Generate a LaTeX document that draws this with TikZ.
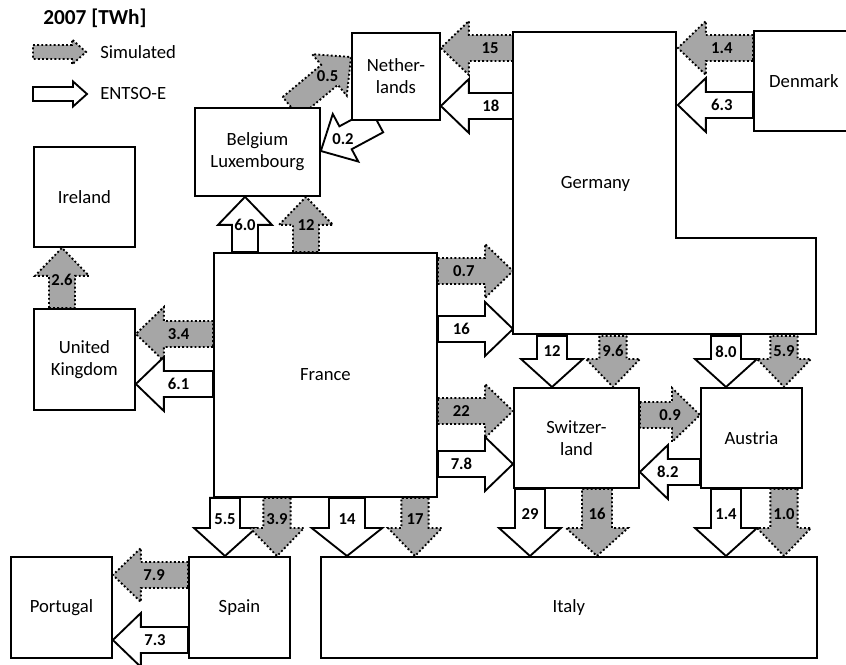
\documentclass[tikz,border=0pt]{standalone}
\usepackage{fontspec}
\setmainfont{Carlito}
\usepackage{tikz}
\usetikzlibrary{calc,backgrounds}
\colorlet{simfill}{black!35}
\def\fas{9.75pt}
\def\fah{20.25pt}
\def\fal{21pt}
\def\falbl{0.6}
\tikzset{
    border/.style={draw=black, line width=1.4pt, fill=white},
    country/.style={
        rectangle, border, inner sep=0pt, align=center, anchor=north west,
        font=\fontsize{14}{16.5}\selectfont
    },
    boxsize/.style 2 args={minimum width=#1*0.75pt, minimum height=#2*0.75pt},
    simflow/.style={draw=black, fill=simfill, line width=1.4pt,
        dash pattern=on 1.4pt off 1.7pt},
    entflow/.style={draw=black, fill=white, line width=1.4pt},
    flowlbl/.style={font=\bfseries\fontsize{12.5}{14}\selectfont, inner sep=0pt},
    flowsize/.code n args={3}{\def\fas{#1}\def\fah{#2}\def\fal{#3}},
    lblpos/.code={\def\falbl{#1}},
    flownarrow/.style={flowsize={9.75pt}{20.25pt}{21pt}},
    flowwide/.style={flowsize={11.25pt}{23.25pt}{21pt}},
    flowmid/.style={flowsize={10.25pt}{20.25pt}{21pt}},
    flowbig/.style={flowsize={13.5pt}{26.5pt}{21pt}},
    flowsmall/.style={flowsize={5.25pt}{9.4pt}{10.5pt}}
}
% block arrow: [size, label pos]{style}{tail}{tip}{label}
\newcommand{\flowarrow}[5][]{%
    \begin{scope}[flownarrow, lblpos=0.6, #1]
        \coordinate (fa-t) at #3;
        \coordinate (fa-h) at #4;
        \coordinate (fa-b) at ($(fa-h)!\fal!(fa-t)$);
        \draw[#2] ($(fa-t)!\fas!90:(fa-h)$) -- ($(fa-b)!\fas!90:(fa-h)$)
            -- ($(fa-b)!\fah!90:(fa-h)$) -- (fa-h)
            -- ($(fa-b)!\fah!-90:(fa-h)$) -- ($(fa-b)!\fas!-90:(fa-h)$)
            -- ($(fa-t)!\fas!-90:(fa-h)$) -- cycle;
        \node[flowlbl] at ($(fa-t)!\falbl!(fa-b)$) {#5};
    \end{scope}}

\begin{document}
\begin{tikzpicture}[x=0.75pt, y=-0.75pt]
    \useasboundingbox (0,0) rectangle (846,664);
    % legend
    \node[font=\bfseries\fontsize{16}{19}\selectfont, anchor=west, inner sep=0pt] (title) at (43,18) {2007 [TWh]};
    \node[font=\fontsize{14}{16.5}\selectfont, anchor=west, inner sep=0pt] (lgsim) at (100,52) {Simulated};
    \node[font=\fontsize{14}{16.5}\selectfont, anchor=west, inner sep=0pt] (lgent) at (100,94) {ENTSO-E};
    \coordinate (lgsim-t) at (33,52);
    \coordinate (lgent-t) at (33,94);
    \flowarrow[flowsmall]{simflow}{(lgsim-t)}{($(lgsim.west)+(-14,0)$)}{}
    \flowarrow[flowsmall]{entflow}{(lgent-t)}{($(lgent.west)+(-13,0)$)}{}
    % countries
    \node[country, boxsize={101}{100}] (ir) at (33,146) {Ireland};
    \node[country, boxsize={101}{101}] (uk) at (33,308) {United\\Kingdom};
    \node[country, boxsize={125}{88}] (be) at (194,107) {Belgium\\Luxembourg};
    \node[country, boxsize={88}{87}] (nl) at (351,32) {Nether-\\lands};
    \node[country, boxsize={223}{244}] (fr) at (213,252) {France};
    \draw[border] (513,32) -- (676,32) -- (676,238) -- (816,238)
        -- (816,334) -- (513,334) -- cycle;
    \node[country, draw=none, fill=none, boxsize={163}{302}] (ge) at (513,32) {Germany};
    \node[country, boxsize={100}{100}] (dk) at (753,30) {Denmark};
    \node[country, boxsize={125}{100}] (ch) at (513,387) {Switzer-\\land};
    \node[country, boxsize={101}{100}] (au) at (700,387) {Austria};
    \node[country, boxsize={101}{101}] (es) at (188,556) {Spain};
    \node[country, boxsize={101}{101}] (pt) at (10,556) {Portugal};
    \node[country, boxsize={496}{101}] (it) at (320,556) {Italy};
    % exchanges
    \begin{pgfonlayer}{background}
        \flowarrow[lblpos=0.52]{simflow}{(ge.west |- 0,48)}{(nl.east |- 0,48)}{15}
        \flowarrow[lblpos=0.5]{entflow}{(ge.west |- 0,106)}{(nl.east |- 0,106)}{18}
        \flowarrow[lblpos=0.66]{simflow}{(dk.west |- 0,48)}{(ge.east |- 0,48)}{1.4}
        \flowarrow[lblpos=0.66]{entflow}{(dk.west |- 0,105)}{(ge.east |- 0,105)}{6.3}
        \flowarrow[lblpos=0.95]{simflow}{(be.north -| 291,0)}{(nl.west |- 0,57)}{0.5}
        \flowarrow[lblpos=1.08]{entflow}{(nl.south -| 377,0)}{(be.east |- 0,151)}{0.2}
        \flowarrow[lblpos=1.0]{entflow}{(fr.north -| 245,0)}{(be.south -| 245,0)}{6.0}
        \flowarrow[lblpos=1.0]{simflow}{(fr.north -| 306,0)}{(be.south -| 306,0)}{12}
        \flowarrow[lblpos=0.86]{simflow}{(uk.north -| 62,0)}{(ir.south -| 62,0)}{2.6}
        \flowarrow[lblpos=0.7]{simflow}{(fr.west |- 0,334)}{(uk.east |- 0,334)}{3.4}
        \flowarrow[lblpos=0.7]{entflow}{(fr.west |- 0,384)}{(uk.east |- 0,384)}{6.1}
        \flowarrow[lblpos=0.55]{simflow}{(fr.east |- 0,271)}{(ge.west |- 0,271)}{0.7}
        \flowarrow[lblpos=0.5]{entflow}{(fr.east |- 0,329)}{(ge.west |- 0,329)}{16}
        \flowarrow[lblpos=0.5]{simflow}{(fr.east |- 0,411)}{(ch.west |- 0,411)}{22}
        \flowarrow[lblpos=0.5]{entflow}{(fr.east |- 0,464)}{(ch.west |- 0,464)}{7.8}
        \flowarrow[flowwide, lblpos=0.67]{entflow}{(ge.south -| 552,0)}{(ch.north -| 552,0)}{12}
        \flowarrow[flowmid, lblpos=0.67]{simflow}{(ge.south -| 613,0)}{(ch.north -| 613,0)}{9.6}
        \flowarrow[flowwide, lblpos=0.67]{entflow}{(ge.south -| 726,0)}{(au.north -| 726,0)}{8.0}
        \flowarrow[flowmid, lblpos=0.67]{simflow}{(ge.south -| 784,0)}{(au.north -| 784,0)}{5.9}
        \flowarrow[lblpos=0.94]{simflow}{(ch.east |- 0,415)}{(au.west |- 0,415)}{0.9}
        \flowarrow[lblpos=1.0]{entflow}{(au.west |- 0,472)}{(ch.east |- 0,472)}{8.2}
        \flowarrow[flowwide, lblpos=0.65]{entflow}{(ch.south -| 530,0)}{(it.north -| 530,0)}{29}
        \flowarrow[flowwide, lblpos=0.65]{simflow}{(ch.south -| 597,0)}{(it.north -| 597,0)}{16}
        \flowarrow[flowwide, lblpos=0.65]{entflow}{(au.south -| 726,0)}{(it.north -| 726,0)}{1.4}
        \flowarrow[flowmid, lblpos=0.65]{simflow}{(au.south -| 784,0)}{(it.north -| 784,0)}{1.0}
        \flowarrow[flowwide, lblpos=0.71]{entflow}{(fr.south -| 225,0)}{(es.north -| 225,0)}{5.5}
        \flowarrow[flowmid, lblpos=0.71]{simflow}{(fr.south -| 277,0)}{(es.north -| 277,0)}{3.9}
        \flowarrow[flowbig, lblpos=0.71]{entflow}{(fr.south -| 347,0)}{(it.north -| 347,0)}{14}
        \flowarrow[flowmid, lblpos=0.71]{simflow}{(fr.south -| 415,0)}{(it.north -| 415,0)}{17}
        \flowarrow[lblpos=0.72]{simflow}{(es.west |- 0,575)}{(pt.east |- 0,575)}{7.9}
        \flowarrow[lblpos=0.7]{entflow}{(es.west |- 0,640)}{(pt.east |- 0,640)}{7.3}
    \end{pgfonlayer}
\end{tikzpicture}
\end{document}
